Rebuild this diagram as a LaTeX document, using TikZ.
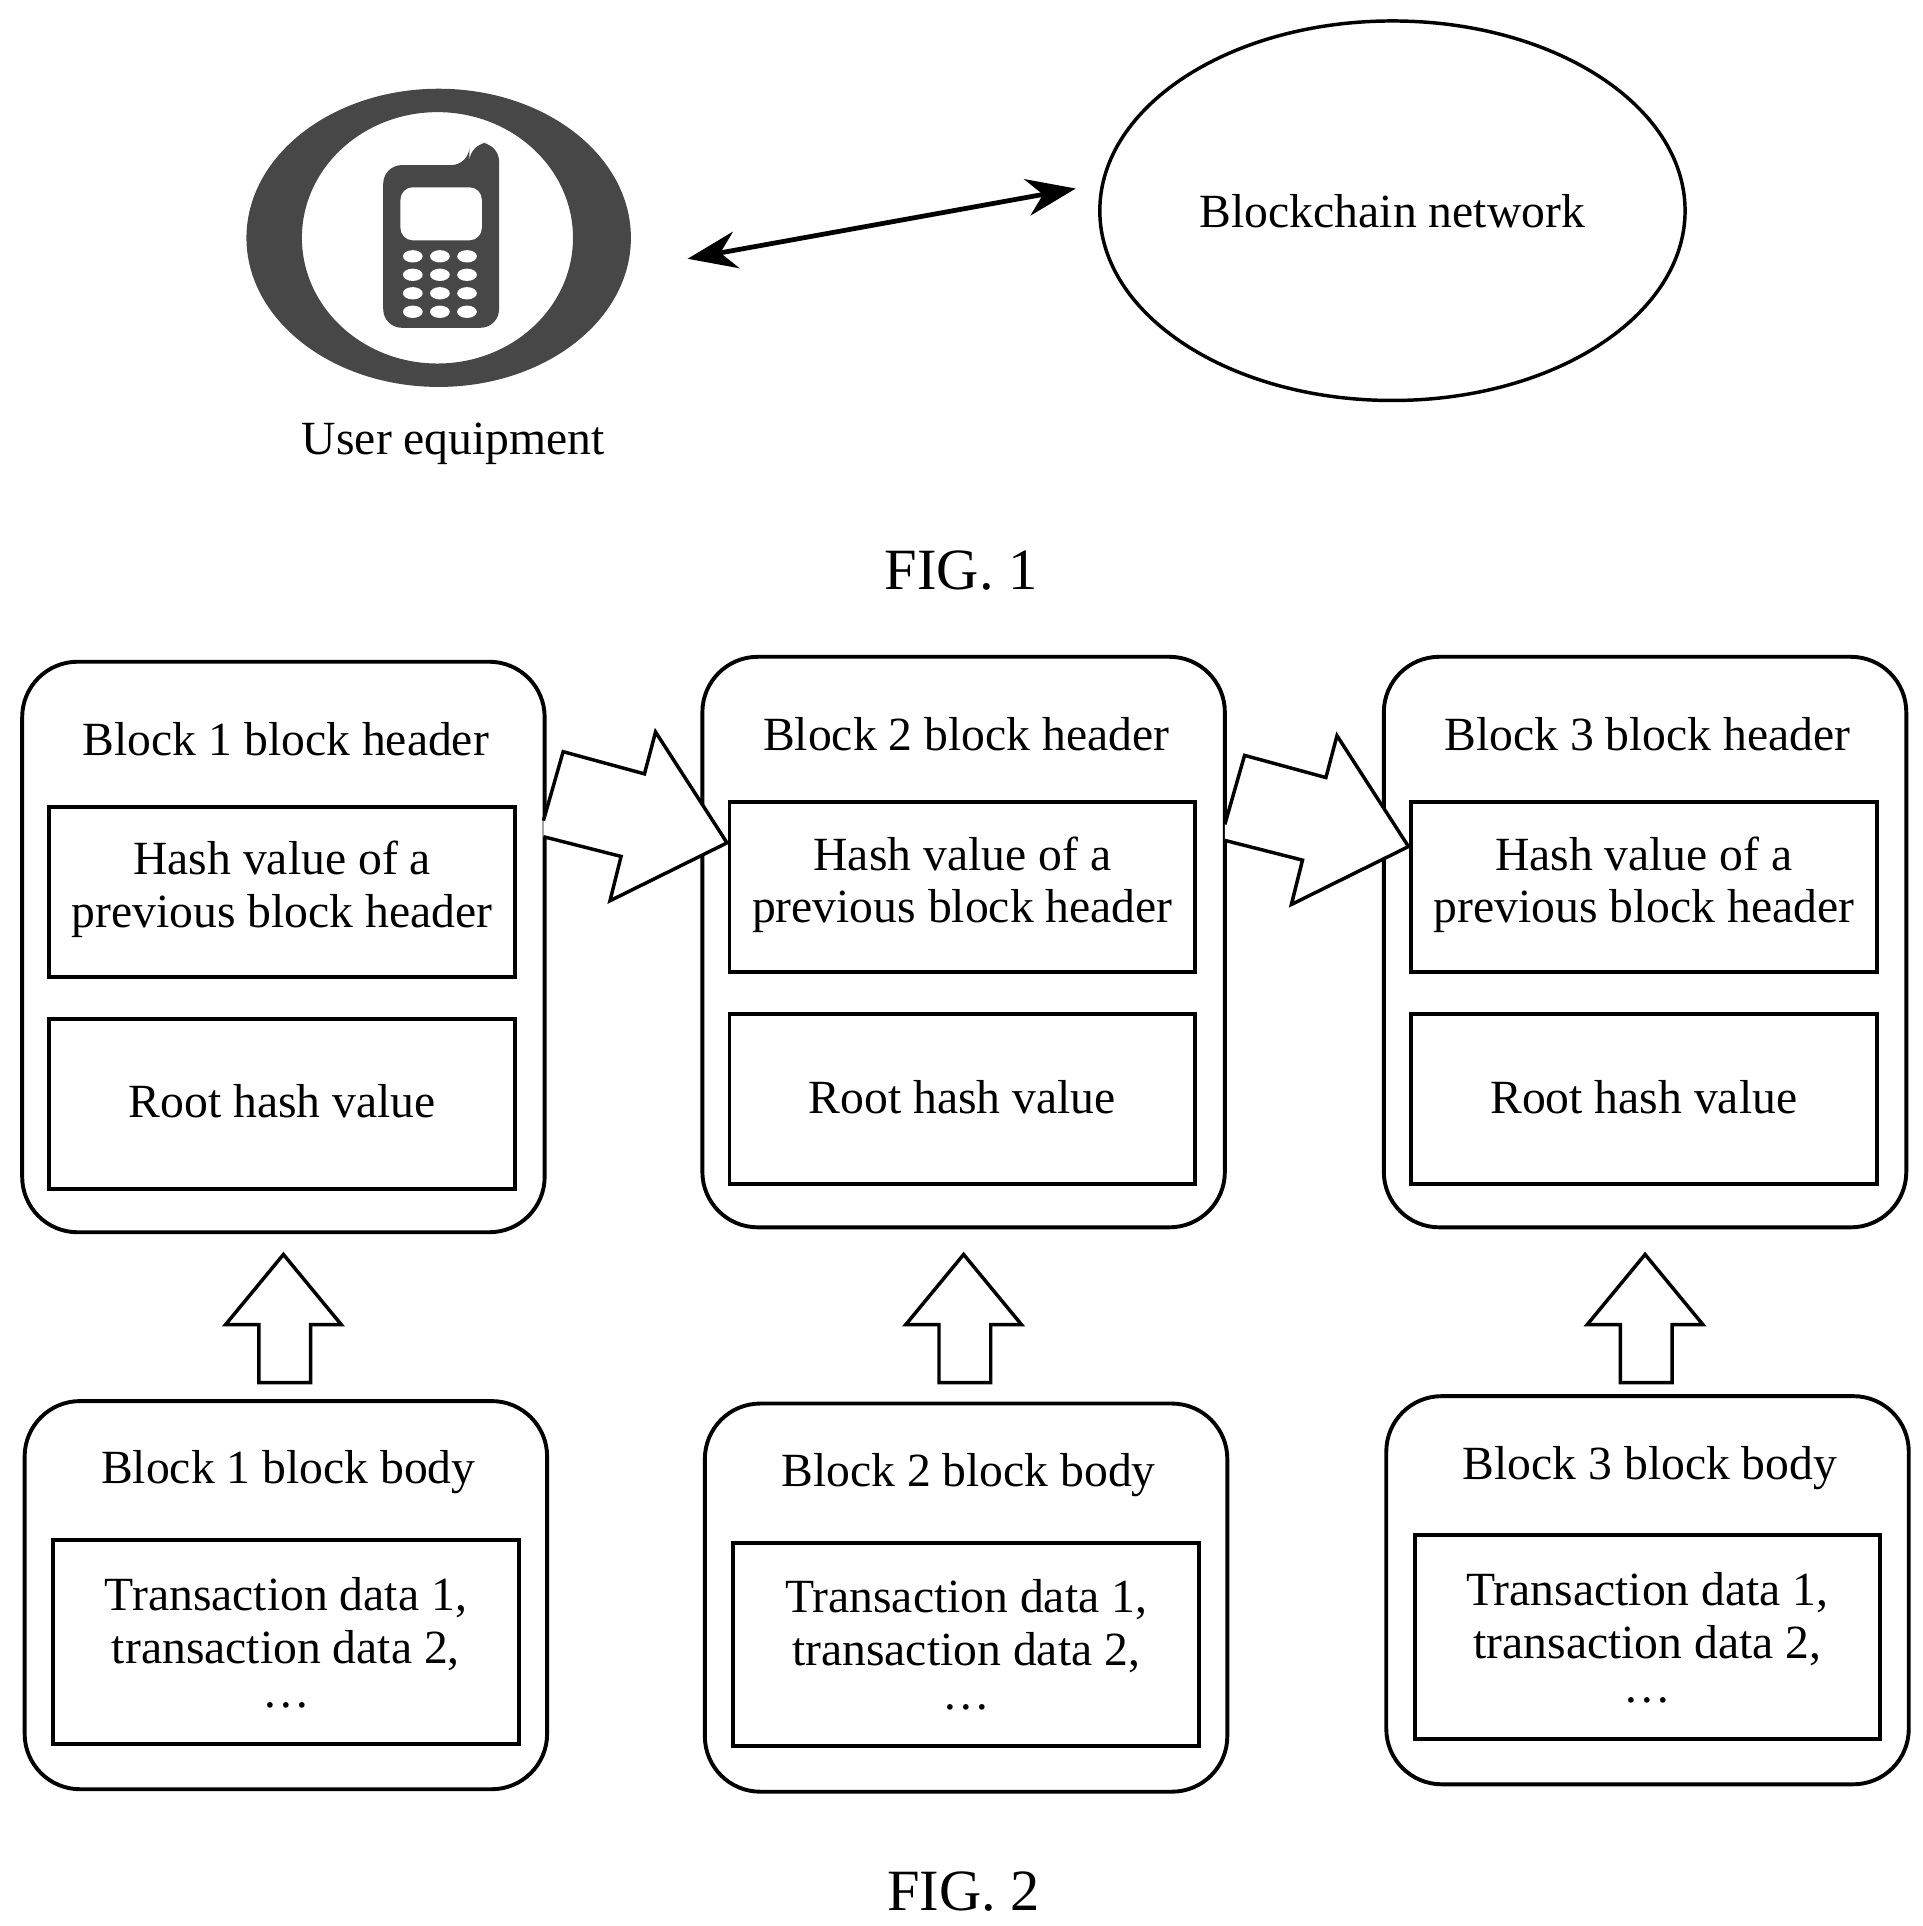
\documentclass[tikz,border=0pt]{standalone}
\usepackage{fontspec}
\setmainfont{Liberation Serif}
\usetikzlibrary{arrows.meta,shapes.geometric}
\begin{document}
\begin{tikzpicture}[x=0.1mm,y=-0.1mm,
  outer/.style={draw,line width=0.9pt,rounded corners=4.5mm},
  inner/.style={draw,line width=0.9pt},
  txt/.style={font=\fontsize{11}{12.2}\selectfont,align=center},
  zig/.style={draw,line width=0.8pt,fill=white},
  up/.style={draw,line width=0.8pt,fill=white},
  ph/.style={fill=black!72}]
\useasboundingbox (0,0) rectangle (1560,1563);
% FIG 1
\fill[ph,even odd rule] (356,193) ellipse [x radius=156,y radius=121] (355,193) ellipse [x radius=110,y radius=102];
\fill[ph,rounded corners=1.5mm] (311,134) -- (381,134) -- (381,116) -- (405,116) -- (405,266) -- (311,266) -- cycle;
\fill[white,rounded corners=1mm] (325,152) rectangle (391,195);
\foreach \i in {0,1,2} \foreach \j in {0,1,2,3}
  \fill[white] (335+\i*22,208+\j*15) ellipse [x radius=8,y radius=5];
\node[inner sep=0,minimum size=0] (ue) at (356,193) {};
\coordinate (a1) at (558,210);
\coordinate (a2) at (873,153);
\draw[line width=1.1pt,{Stealth[length=4mm,width=3mm]}-{Stealth[length=4mm,width=3mm]}] (a1) -- (a2);
\node[draw,ellipse,line width=0.8pt,minimum width=47mm,minimum height=30.8mm,txt] (bn) at (1130,171) {Blockchain network};
\node[txt] (uel) at (368,360) {User equipment};
\node[font=\fontsize{13.5}{16}\selectfont] (f1) at (780,463) {FIG. 1};
% FIG 2
\foreach \k/\x/\y/\by in {1/18/537/1137,2/570/533/1139,3/1123/533/1133}{
  \draw[outer] (\x,\y) rectangle ++(424,463);
  \node[txt] (h\k) at (\x+214,\y+63) {Block \k\ block header};
  \draw[inner] (\x+22,\y+118) rectangle ++(378,138);
  \node[txt] (hv\k) at (\x+211,\y+185) {Hash value of a\\previous block header};
  \draw[inner] (\x+22,\y+290) rectangle ++(378,138);
  \node[txt] (rh\k) at (\x+211,\y+357) {Root hash value};
  \draw[outer] (\x+2,\by) rectangle ++(424,315);
  \node[txt] (b\k) at (\x+216,\by+58) {Block \k\ block body};
  \draw[inner] (\x+25,\by+113) rectangle ++(378,165);
  \node[txt] (td\k) at (\x+214,\by+196) {Transaction data 1,\\transaction data 2,\\[-2pt]\ldots};
  \draw[up] (\x+192,1122) -- (\x+192,1075) -- (\x+165,1075) -- (\x+212,1018) -- (\x+259,1075) -- (\x+234,1075) -- (\x+234,1122) -- cycle;
}
\foreach \s/\t in {0/0,553/3}{
  \draw[zig] (441+\s,666+\t) -- (457+\s,610+\t) -- (523+\s,628+\t) -- (532+\s,594+\t) -- (590+\s,684+\t) -- (495+\s,731+\t) -- (504+\s,695+\t) -- (441+\s,679+\t);
}
\node[font=\fontsize{13.5}{16}\selectfont] (f2) at (782,1535) {FIG. 2};
\end{tikzpicture}
\end{document}
